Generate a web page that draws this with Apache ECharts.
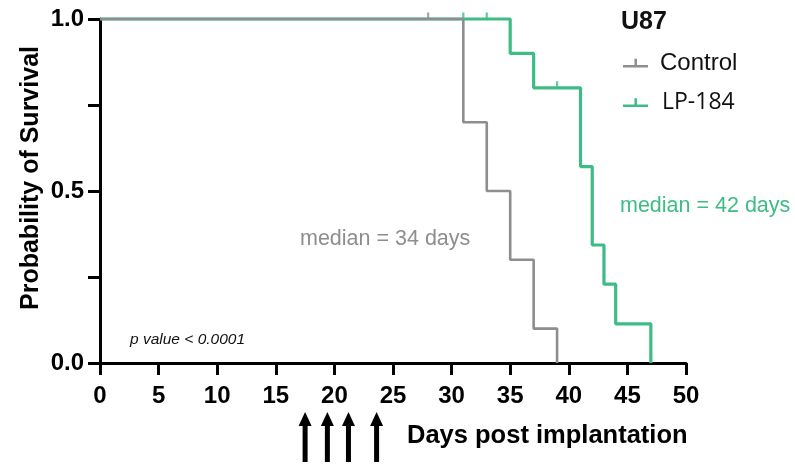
<!DOCTYPE html>
<html>
<head>
<meta charset="utf-8">
<script src="https://cdn.jsdelivr.net/npm/echarts@6/dist/echarts.min.js"></script>
<style>html,body{margin:0;padding:0;background:#fff;}#c{width:795px;height:465px;}</style>
</head>
<body>
<div id="c"></div>
<script>
// Kaplan-Meier steps (day, survival probability)
const controlDays = [0, 31, 33, 35, 37, 39];
const controlSurv = [1.0, 0.7, 0.5, 0.3, 0.1, 0.0];
const controlCensorDays = [28];
const controlCensorSurv = [1.0];

const lpDays = [0, 35, 37, 41, 42, 43, 44, 47];
const lpSurv = [1.0, 0.9, 0.8, 0.571, 0.343, 0.229, 0.114, 0.0];
const lpCensorDays = [31, 33, 39];
const lpCensorSurv = [1.0, 1.0, 0.8];

const treatmentDays = [17.5, 19.4, 21.2, 23.6];
const yLabelTicks = [0, 0.5, 1.0];

const GRAY = '#8e8e8e';
const GREEN = '#3dbd85';

const zip = (a, b) => a.map((v, i) => [v, b[i]]);

const chart = echarts.init(document.getElementById('c'), null, {renderer: 'canvas'});
const boldFont = 'Liberation Sans, Arial, sans-serif';

const option = {
  animation: false,
  backgroundColor: '#fff',
  grid: {left: 100, right: 109, top: 19, bottom: 102, outerBoundsMode: 'none'},
  xAxis: {
    type: 'value', min: 0, max: 50, interval: 5,
    axisLine: {show: true, onZero: false, lineStyle: {color: '#000', width: 3}},
    axisTick: {show: true, length: 12, lineStyle: {color: '#000', width: 3}},
    axisLabel: {color: '#000', fontFamily: boldFont, fontWeight: 'bold', fontSize: 24, margin: 21},
    splitLine: {show: false}
  },
  yAxis: {
    type: 'value', min: 0, max: 1, interval: 0.25,
    axisLine: {show: true, lineStyle: {color: '#000', width: 3}},
    axisTick: {show: true, length: 12, lineStyle: {color: '#000', width: 3}},
    axisLabel: {
      color: '#000', fontFamily: boldFont, fontWeight: 'bold', fontSize: 24, margin: 16,
      formatter: v => yLabelTicks.some(t => Math.abs(t - v) < 1e-9) ? v.toFixed(1) : ''
    },
    splitLine: {show: false}
  },
  legend: {
    orient: 'vertical', left: 618, top: 46, itemWidth: 25, itemHeight: 14, itemGap: 16,
    selectedMode: false,
    data: [
      {name: 'Control', icon: 'path://M0,10h24v2.4H0z M11,4h2.4v6h-2.4z',
       textStyle: {fontFamily: 'Liberation Sans, Arial, sans-serif', fontSize: 24, color: '#111', padding: [0,0,0,7]}},
      {name: 'LP-184', icon: 'path://M0,10h24v2.4H0z M11,4h2.4v6h-2.4z',
       textStyle: {fontFamily: 'Open Sans, sans-serif', fontSize: 23, color: '#111', padding: [0,0,0,9]}}
    ]
  },
  series: [
    {name: 'LP-184', type: 'line', step: 'end', showSymbol: false, clip: false,
     data: zip(lpDays, lpSurv), color: GREEN, lineStyle: {color: GREEN, width: 3.2}, z: 2},
    {name: 'LP-184 censored', type: 'scatter', symbol: 'rect', symbolSize: [2.2, 6], symbolOffset: [0, -3.5],
     data: zip(lpCensorDays, lpCensorSurv), itemStyle: {color: GREEN}, clip: false, z: 3},
    {name: 'Control', type: 'line', step: 'end', showSymbol: false, clip: false,
     data: zip(controlDays, controlSurv), color: GRAY, lineStyle: {color: GRAY, width: 2.6}, z: 4},
    {name: 'Control censored', type: 'scatter', symbol: 'rect', symbolSize: [2.2, 6], symbolOffset: [0, -3.5],
     data: zip(controlCensorDays, controlCensorSurv), itemStyle: {color: GRAY}, clip: false, z: 5}
  ],
  graphic: [
    {type: 'text', x: 31, y: 178, rotation: Math.PI / 2,
     style: {text: 'Probability of Survival', font: 'bold 25px Liberation Sans, Arial, sans-serif', fill: '#000', align: 'center', verticalAlign: 'middle'}},
    {type: 'text', left: 621, top: 10, style: {text: 'U87', font: 'bold 25px Liberation Sans, Arial, sans-serif', fill: '#111'}},
    {type: 'text', left: 620, top: 195, style: {text: 'median = 42 days', font: '21.5px Liberation Sans, Arial, sans-serif', fill: GREEN}},
    {type: 'text', left: 300, top: 228, style: {text: 'median = 34 days', font: '21.5px Liberation Sans, Arial, sans-serif', fill: GRAY}},
    {type: 'text', left: 130, top: 332, style: {text: 'p value < 0.0001', font: 'italic 15.5px Liberation Sans, Arial, sans-serif', fill: '#111'}},
    {type: 'text', left: 407, top: 423, style: {text: 'Days post implantation', font: 'bold 25.5px Liberation Sans, Arial, sans-serif', fill: '#000'}}
  ]
};
chart.setOption(option);

// treatment arrows below the x axis, positioned through the axis scale
const arrowEls = [];
treatmentDays.forEach(d => {
  const x = chart.convertToPixel({xAxisIndex: 0}, d);
  arrowEls.push({type: 'polygon', shape: {points: [[x, 412], [x - 6.5, 426], [x + 6.5, 426]]}, style: {fill: '#000'}});
  arrowEls.push({type: 'rect', shape: {x: x - 2.5, y: 424, width: 5, height: 38}, style: {fill: '#000'}});
});
chart.setOption({graphic: option.graphic.concat(arrowEls)});
</script>
</body>
</html>
